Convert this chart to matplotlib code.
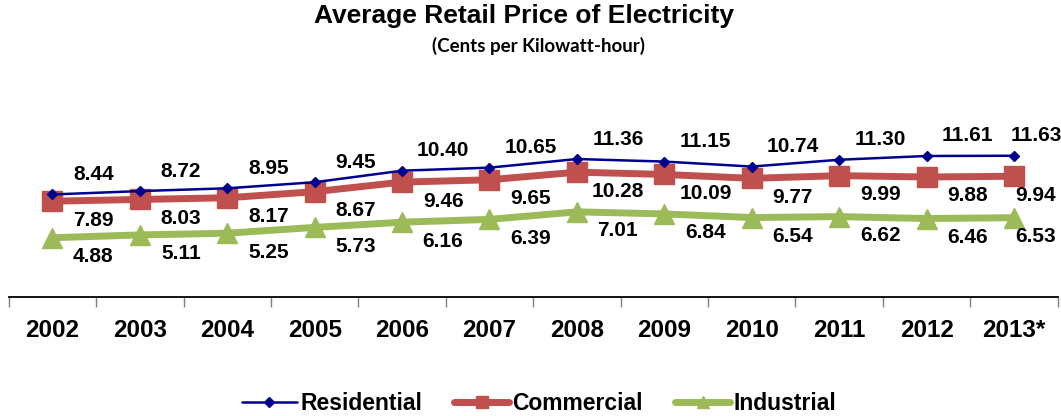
import matplotlib
matplotlib.use("Agg")
import matplotlib.pyplot as plt
from matplotlib.lines import Line2D

years = ["2002", "2003", "2004", "2005", "2006", "2007",
         "2008", "2009", "2010", "2011", "2012", "2013*"]
residential = [8.44, 8.72, 8.95, 9.45, 10.40, 10.65, 11.36, 11.15, 10.74, 11.30, 11.61, 11.63]
commercial = [7.89, 8.03, 8.17, 8.67, 9.46, 9.65, 10.28, 10.09, 9.77, 9.99, 9.88, 9.94]
industrial = [4.88, 5.11, 5.25, 5.73, 6.16, 6.39, 7.01, 6.84, 6.54, 6.62, 6.46, 6.53]

FONT = "Liberation Sans"
C_RES = "#00008E"
C_COM = "#C0504D"
C_IND = "#9BBB59"

fig = plt.figure(figsize=(10.61, 4.16), dpi=100)
ax = fig.add_axes([0.0082, 0.2861, 0.9887, 0.4087])

x = list(range(len(years)))

ax.plot(x, residential, color=C_RES, lw=1.8, marker="D", ms=5.5,
        solid_joinstyle="round", zorder=5)
ax.plot(x, commercial, color=C_COM, lw=5, marker="s", ms=14.5,
        solid_joinstyle="round", zorder=4)
ax.plot(x, industrial, color=C_IND, lw=5, marker="^", ms=14.5,
        solid_joinstyle="round", zorder=3)

# value labels, shifted right of each point (less on the final one)
def label_series(vals, dy):
    for i, v in enumerate(vals):
        dx = 22 if i == len(vals) - 1 else 41
        ax.annotate(f"{v:.2f}", (i, v), xytext=(dx, dy), textcoords="offset pixels",
                    ha="center", va="center", fontsize=15, fontweight="bold",
                    family=FONT, color="black", zorder=6, annotation_clip=False)

label_series(residential, 20)
label_series(commercial, -19)
label_series(industrial, -19)

ax.set_xlim(-0.5, len(years) - 0.5)
ax.set_ylim(0, 14)
ax.set_yticks([])
for s in ("left", "right", "top"):
    ax.spines[s].set_visible(False)
ax.spines["bottom"].set_linewidth(1.3)
ax.spines["bottom"].set_color("black")

ax.set_xticks(x)
ax.set_xticklabels(years, fontsize=17.5, fontweight="bold", family=FONT)
ax.tick_params(axis="x", which="major", length=0, pad=15.5)
ax.set_xticks([i - 0.5 for i in range(len(years) + 1)], minor=True)
ax.tick_params(axis="x", which="minor", length=7, width=1, color="#808080",
               direction="out")

fig.text(0.494, 0.9615, "Average Retail Price of Electricity", ha="center", va="center",
         fontsize=19, fontweight="bold", family=FONT)
fig.text(0.508, 0.889, "(Cents per Kilowatt-hour)", ha="center", va="center",
         fontsize=13.5, fontweight="bold", family="Lato")

handles = [
    Line2D([], [], color=C_RES, lw=1.8, marker="D", ms=5, solid_capstyle="round"),
    Line2D([], [], color=C_COM, lw=5, marker="s", ms=8, solid_capstyle="round"),
    Line2D([], [], color=C_IND, lw=5, marker="^", ms=8, solid_capstyle="round"),
]
fig.legend(handles, ["Residential", "Commercial", "Industrial"],
           loc="center", bbox_to_anchor=(0.508, 0.03), ncol=3, frameon=False,
           prop={"family": FONT, "weight": "bold", "size": 16.5},
           handlelength=2.4, handletextpad=0.15, columnspacing=1.4,
           borderaxespad=0, borderpad=0)

fig.savefig("out.png", dpi=100)
